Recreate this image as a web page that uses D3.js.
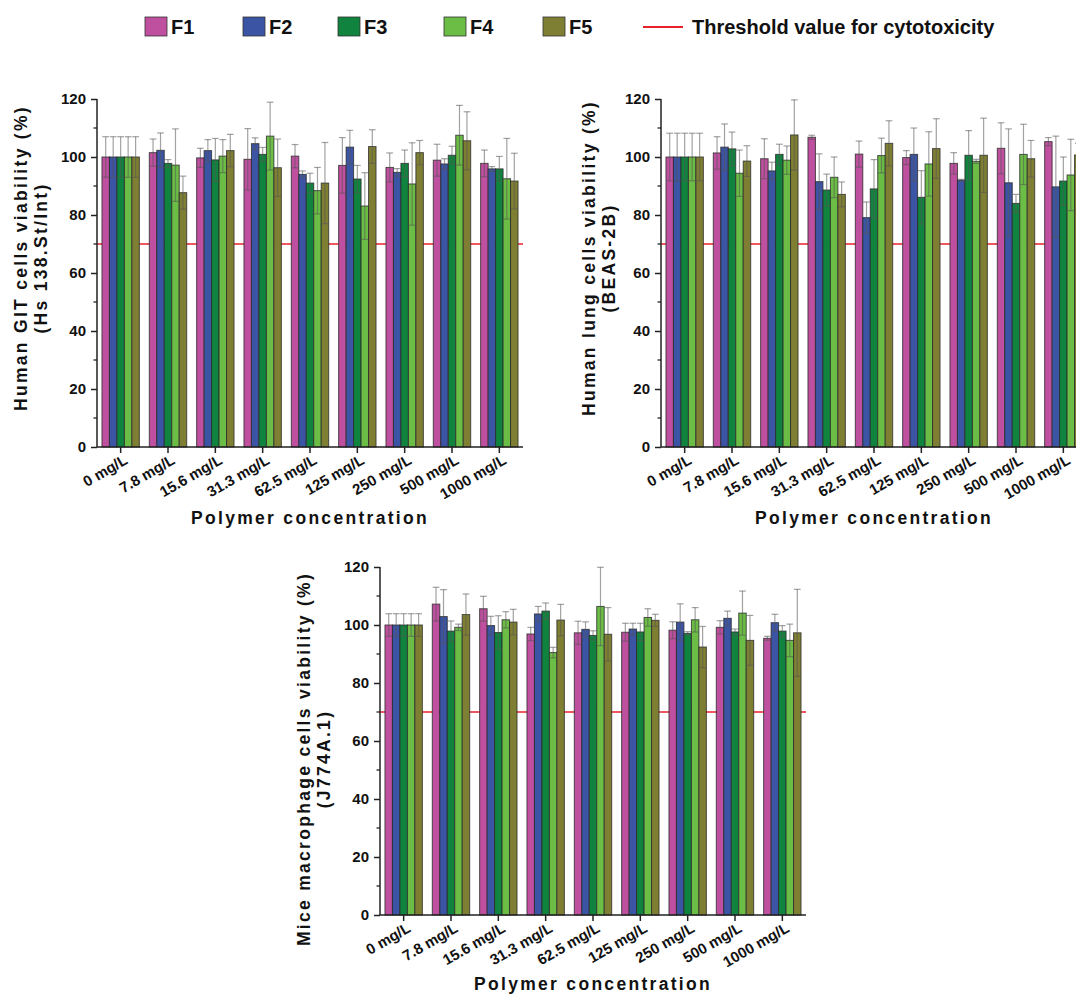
<!DOCTYPE html>
<html>
<head>
<meta charset="utf-8">
<script src="https://cdn.jsdelivr.net/npm/d3@7"></script>
<style>
  html, body { margin: 0; padding: 0; background: #fff; }
  svg { display: block; }
  text { font-family: "Liberation Sans", Arial, sans-serif; }
</style>
</head>
<body>
<svg id="chart" width="1076" height="994"></svg>
<script>
// Concentrations tested and formulation names
const categories = ["0 mg/L", "7.8 mg/L", "15.6 mg/L", "31.3 mg/L", "62.5 mg/L", "125 mg/L", "250 mg/L", "500 mg/L", "1000 mg/L"];
const series = ["F1", "F2", "F3", "F4", "F5"];
const seriesColors = ["#bf4f9f", "#3b54a4", "#10833f", "#6bbd45", "#7f7f33"];
const yTicks = [0, 20, 40, 60, 80, 100, 120];
const threshold = 70;

// Human GIT cells (Hs 138.St/Int): mean viability (%) per formulation
const gitMeans = [
  [100, 101.5, 99.7, 99.2, 100.3, 97.1, 96.4, 98.9, 97.8],
  [100, 102.3, 102.2, 104.6, 94.0, 103.4, 94.7, 97.6, 95.9],
  [100, 97.8, 99.0, 100.9, 91.0, 92.4, 97.8, 100.6, 95.9],
  [100, 97.2, 100.3, 107.2, 88.4, 83.1, 90.7, 107.5, 92.5],
  [100, 87.7, 102.2, 96.3, 91.0, 103.6, 101.5, 105.6, 91.7]
];
const gitErrors = [
  [7, 4.7, 3.3, 10.6, 4.0, 9.6, 5.0, 5.5, 4.6],
  [7, 6.0, 3.8, 2.0, 1.2, 5.8, 1.3, 1.8, 0.8],
  [7, 1.3, 7.4, 2.4, 3.4, 4.7, 4.6, 3.1, 4.3],
  [7, 12.5, 5.7, 11.7, 8.0, 11.5, 14.2, 10.3, 13.9],
  [7, 5.7, 5.6, 9.9, 14.0, 5.8, 4.2, 10.0, 9.6]
];

// Human lung cells (BEAS-2B)
const lungMeans = [
  [100, 101.4, 99.4, 106.8, 101.0, 99.8, 97.8, 103.0, 105.3],
  [100, 103.4, 95.2, 91.5, 79.1, 100.9, 92.0, 91.1, 89.7],
  [100, 102.8, 100.9, 88.6, 89.0, 86.1, 100.6, 84.0, 91.7],
  [100, 94.4, 98.9, 93.0, 100.5, 97.6, 98.5, 100.9, 93.8],
  [100, 98.6, 107.6, 87.1, 104.7, 102.9, 100.6, 99.4, 100.7]
];
const lungErrors = [
  [8.2, 5.6, 6.9, 0.7, 4.5, 2.4, 3.7, 8.8, 1.4],
  [8.2, 8.0, 3.0, 9.6, 5.4, 9.1, 0.3, 18.6, 17.5],
  [8.2, 5.8, 3.5, 5.5, 10.1, 9.2, 8.5, 3.1, 8.3],
  [8.2, 8.0, 4.9, 7.0, 6.0, 11.1, 0.7, 10.4, 12.3],
  [8.2, 5.3, 12.1, 4.3, 7.8, 10.3, 12.8, 6.3, 4.0]
];

// Mice macrophage cells (J774A.1)
const macroMeans = [
  [100, 107.2, 105.6, 96.9, 97.3, 97.5, 98.2, 99.2, 95.4],
  [100, 102.9, 99.8, 103.8, 98.5, 98.6, 101.0, 102.3, 100.8],
  [100, 97.9, 97.4, 104.8, 96.4, 97.6, 97.1, 97.6, 97.9],
  [100, 99.2, 101.8, 90.5, 106.4, 102.6, 101.8, 104.1, 94.7],
  [100, 103.6, 101.0, 101.7, 96.8, 101.6, 92.4, 94.7, 97.3]
];
const macroErrors = [
  [3.9, 5.8, 4.3, 2.3, 4.0, 3.1, 2.9, 2.3, 0.7],
  [3.9, 9.3, 3.2, 2.6, 2.6, 2.0, 6.3, 2.5, 2.9],
  [3.9, 3.5, 5.8, 2.8, 1.6, 3.0, 0.6, 1.0, 1.9],
  [3.9, 1.1, 2.8, 1.8, 13.5, 3.0, 4.2, 7.6, 5.6],
  [3.9, 7.1, 4.4, 5.4, 9.2, 2.1, 7.1, 8.6, 15.0]
];

const svg = d3.select("#chart");
svg.append("rect").attr("width", 1076).attr("height", 994).attr("fill", "#fff");

function drawPanel(p) {
  const x0 = d3.scaleBand().domain(categories).range([p.left, p.right])
    .paddingInner(0.21).paddingOuter(0.105);
  const x1 = d3.scaleBand().domain(series).range([0, x0.bandwidth()]);
  const y = d3.scaleLinear().domain([0, 120]).range([p.bottom, p.top]);

  const g = svg.append("g");

  // threshold line
  g.append("line")
    .attr("x1", p.left).attr("x2", p.right)
    .attr("y1", y(threshold)).attr("y2", y(threshold))
    .attr("stroke", "#e8202a").attr("stroke-width", 1.6);

  // bars
  const rows = [];
  series.forEach((s, si) => {
    categories.forEach((c, ci) => {
      rows.push({ s, si, c, v: p.means[si][ci], e: p.errors[si][ci] });
    });
  });

  g.append("g").selectAll("rect").data(rows).join("rect")
    .attr("x", d => x0(d.c) + x1(d.s))
    .attr("y", d => y(d.v))
    .attr("width", x1.bandwidth())
    .attr("height", d => y(0) - y(d.v))
    .attr("fill", d => seriesColors[d.si])
    .attr("stroke", "#2a2a2a").attr("stroke-opacity", 0.8).attr("stroke-width", 1);

  // error bars (mean ± SD)
  const eg = g.append("g").attr("stroke", "#555").attr("stroke-opacity", 0.55).attr("stroke-width", 1.2).attr("fill", "none");
  const capW = x1.bandwidth() * 0.9;
  rows.forEach(d => {
    const cx = x0(d.c) + x1(d.s) + x1.bandwidth() / 2;
    const yHi = y(d.v + d.e), yLo = y(d.v - d.e);
    eg.append("line").attr("x1", cx).attr("x2", cx).attr("y1", yHi).attr("y2", yLo);
    eg.append("line").attr("x1", cx - capW / 2).attr("x2", cx + capW / 2).attr("y1", yHi).attr("y2", yHi);
    eg.append("line").attr("x1", cx - capW / 2).attr("x2", cx + capW / 2).attr("y1", yLo).attr("y2", yLo);
  });

  // y axis with minor ticks
  const yAxis = g.append("g").attr("transform", `translate(${p.left},0)`)
    .call(d3.axisLeft(y).tickValues(yTicks).tickSize(6).tickPadding(5).tickFormat(d3.format("d")));
  yAxis.attr("font-size", null);
  yAxis.selectAll(".tick text").style("font-size", "15px").attr("font-weight", "bold").attr("fill", "#111")
    .style("font-family", "'Liberation Sans', Arial, sans-serif");
  yAxis.append("g").selectAll("line").data(d3.range(10, 120, 20)).join("line")
    .attr("x1", -3.5).attr("x2", 0).attr("y1", d => y(d)).attr("y2", d => y(d))
    .attr("stroke", "#222").attr("stroke-width", 1.3);
  yAxis.select(".domain").attr("d", `M0,${p.top}V${p.bottom}`);

  // x axis
  const xAxis = g.append("g").attr("transform", `translate(0,${p.bottom})`)
    .call(d3.axisBottom(x0).tickSize(6).tickSizeOuter(0));
  xAxis.attr("font-size", null);
  xAxis.select(".domain").attr("d", `M${p.left},0H${p.right}`);
  xAxis.selectAll(".tick text")
    .style("font-size", "15px").attr("font-weight", "bold").attr("fill", "#111")
    .style("font-family", "'Liberation Sans', Arial, sans-serif")
    .attr("text-anchor", "end").attr("dy", null).attr("y", 0).attr("x", 0)
    .attr("transform", "translate(8,16) rotate(-30)");
  [yAxis, xAxis].forEach(a => {
    a.selectAll(".domain, .tick line").attr("stroke", "#222").attr("stroke-width", 1.5);
  });

  // axis titles
  const cy = (p.top + p.bottom) / 2 + p.titleShift;
  p.yTitle.forEach((t, i) => {
    svg.append("text")
      .attr("transform", `translate(${p.yTitleX + i * 20},${cy}) rotate(-90)`)
      .attr("text-anchor", "middle").attr("dominant-baseline", "central")
      .attr("font-size", 17.5).attr("font-weight", "bold").attr("letter-spacing", 2.3)
      .attr("fill", "#111").text(t);
  });
  svg.append("text")
    .attr("x", (p.left + p.right) / 2).attr("y", p.bottom + p.xTitleDy)
    .attr("text-anchor", "middle")
    .attr("font-size", 17.5).attr("font-weight", "bold").attr("letter-spacing", 2.3)
    .attr("fill", "#111").text("Polymer concentration");
}

drawPanel({ left: 97, right: 523, top: 99, bottom: 447, means: gitMeans, errors: gitErrors,
  yTitle: ["Human GIT cells viability (%)", "(Hs 138.St/Int)"], yTitleX: 21, titleShift: -15, xTitleDy: 77 });
drawPanel({ left: 661, right: 1087, top: 99, bottom: 447, means: lungMeans, errors: lungErrors,
  yTitle: ["Human lung cells viability (%)", "(BEAS-2B)"], yTitleX: 589, titleShift: -15, xTitleDy: 77 });
drawPanel({ left: 380, right: 806, top: 567, bottom: 915, means: macroMeans, errors: macroErrors,
  yTitle: ["Mice macrophage cells viability (%)", "(J774A.1)"], yTitleX: 304, titleShift: 18, xTitleDy: 75 });

// legend
const legendX = [145, 243, 338, 444, 543];
const leg = svg.append("g").attr("class", "legend");
series.forEach((s, i) => {
  leg.append("rect").attr("x", legendX[i]).attr("y", 17).attr("width", 22).attr("height", 19)
    .attr("fill", seriesColors[i]).attr("stroke", "#333").attr("stroke-width", 0.8);
  leg.append("text").attr("x", legendX[i] + 26).attr("y", 34)
    .attr("font-size", 20).attr("font-weight", "bold")
    .style("font-family", "'Liberation Sans Narrow', 'Arial Narrow', sans-serif")
    .attr("fill", "#111").text(s);
});
leg.append("line").attr("x1", 643).attr("x2", 683).attr("y1", 27).attr("y2", 27)
  .attr("stroke", "#e8202a").attr("stroke-width", 2);
leg.append("text").attr("x", 692).attr("y", 34)
  .attr("font-size", 20).attr("font-weight", "bold")
  .style("font-family", "'Liberation Sans Narrow', 'Arial Narrow', sans-serif")
  .attr("fill", "#111").text("Threshold value for cytotoxicity");
</script>
</body>
</html>
